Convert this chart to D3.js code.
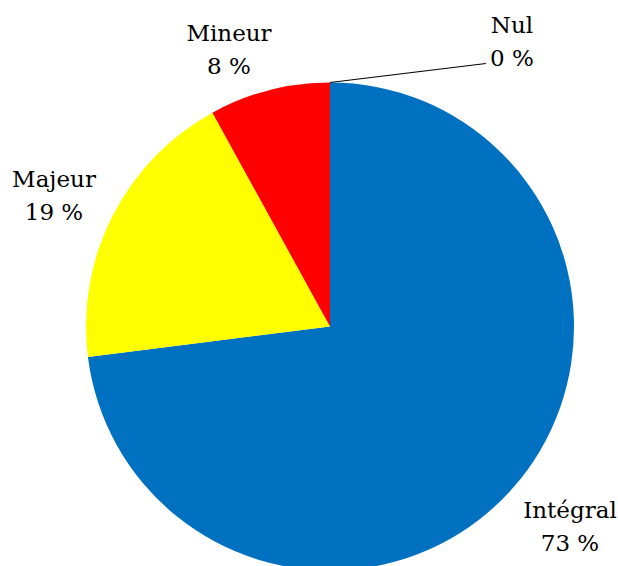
<!DOCTYPE html>
<html>
<head>
<meta charset="utf-8">
<script src="https://cdn.jsdelivr.net/npm/d3@7"></script>
<style>
  html, body { margin: 0; padding: 0; background: #fff; }
  svg { display: block; }
</style>
</head>
<body>
<svg id="chart" width="618" height="566"></svg>
<script>
// Share of each category (percent)
const categories = ["Intégral", "Majeur", "Mineur", "Nul"];
const values = [73, 19, 8, 0];
const colors = ["#0070C0", "#FFFF00", "#FF0000", "#7F7F7F"];

const width = 618, height = 566;
const cx = 330, cy = 326.5, radius = 244;
const labelFont = "'DejaVu Serif', serif";

const svg = d3.select("#chart");
const g = svg.append("g").attr("transform", `translate(${cx},${cy})`);

const pie = d3.pie().sort(null).value(d => d.value);
const arcs = pie(categories.map((c, i) => ({ name: c, value: values[i], color: colors[i] })));
const arc = d3.arc().innerRadius(0).outerRadius(radius);

g.selectAll("path.slice")
  .data(arcs.filter(d => d.endAngle > d.startAngle))
  .join("path")
  .attr("class", "slice")
  .attr("d", arc)
  .attr("fill", d => d.data.color);

// Label placement (relative to the pie centre), centred text on two lines
const labelPos = {
  "Intégral": [240, 191],
  "Majeur": [-276, -140],
  "Mineur": [-101, -286],
  "Nul": [182, -294]
};
const lineGap = 33;

arcs.forEach(d => {
  const [lx, ly] = labelPos[d.data.name];
  const t = g.append("text")
    .attr("text-anchor", "middle")
    .style("font-family", labelFont)
    .style("font-size", "23px")
    .attr("fill", "#000");
  t.append("tspan").attr("x", lx).attr("y", ly).text(d.data.name);
  t.append("tspan").attr("x", lx).attr("y", ly + lineGap).text(`${d.value} %`);
});

// Leader line for the zero slice
const zero = arcs.find(d => d.data.name === "Nul");
const a = zero.startAngle;
const p0 = [Math.sin(a) * radius, -Math.cos(a) * radius];
const [nx, ny] = labelPos["Nul"];
g.append("polyline")
  .attr("points", [p0, [nx - 26, ny + lineGap - 2]].map(p => p.join(",")).join(" "))
  .attr("fill", "none")
  .attr("stroke", "#000")
  .attr("stroke-width", 1.2);
</script>
</body>
</html>
